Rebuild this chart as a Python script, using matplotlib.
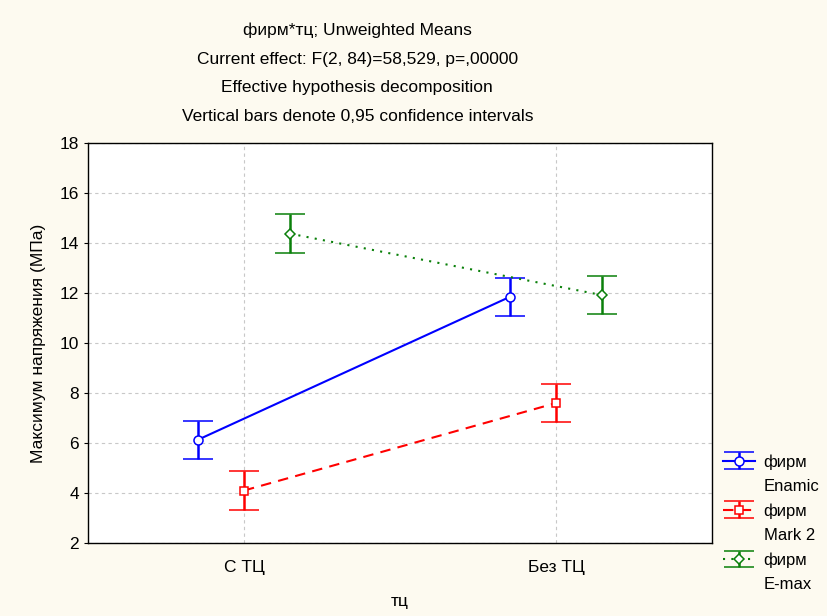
import matplotlib
matplotlib.use("Agg")
import matplotlib.pyplot as plt
from matplotlib.lines import Line2D
import numpy as np

plt.rcParams["font.family"] = ["Liberation Sans", "DejaVu Sans"]

categories = ["С ТЦ", "Без ТЦ"]
series_names = ["фирм", "фирм", "фирм"]
series_sub = ["Enamic", "Mark 2", "E-max"]
means_enamic = [6.13, 11.85]
means_mark2 = [4.10, 7.60]
means_emax = [14.38, 11.92]
ci_enamic = [0.77, 0.77]
ci_mark2 = [0.77, 0.77]
ci_emax = [0.77, 0.77]

bg = "#FDFAF0"
fs = 12.5
fig = plt.figure(figsize=(8.27, 6.16), dpi=100, facecolor=bg)
ax = fig.add_axes([0.1064, 0.1185, 0.7545, 0.649])
ax.set_facecolor("white")

x = np.arange(len(categories))
offsets = [-0.148, 0.0, 0.148]
styles = [
    dict(color="#0000FF", marker="o", ls="-", ms=6.5),
    dict(color="#FF0000", marker="s", ls=(0, (5, 3.5)), ms=6),
    dict(color="#0A800A", marker="D", ls=(0, (1, 3)), ms=5.5),
]
handles = []
labels = []
blank = Line2D([], [], color="none")
for means, ci, off, st, name, sub in zip(
    [means_enamic, means_mark2, means_emax],
    [ci_enamic, ci_mark2, ci_emax],
    offsets, styles, series_names, series_sub,
):
    h = ax.errorbar(x + off, means, yerr=ci, color=st["color"], ls=st["ls"],
                    lw=1.5, marker=st["marker"], ms=st["ms"], mfc="white",
                    mec=st["color"], mew=1.1, capsize=11, capthick=2,
                    elinewidth=1.8)
    handles += [h, blank]
    labels += [name, sub]

ax.set_xlim(-0.5, 1.5)
ax.set_ylim(2, 18)
ax.set_yticks(np.arange(2, 19, 2))
ax.set_xticks(x)
ax.set_xticklabels(categories)
ax.tick_params(axis="both", labelsize=fs, length=3)
ax.tick_params(axis="x", length=0, pad=12)
ax.grid(True, color="#C8C8C8", ls=(0, (3, 3)), lw=0.8)
ax.set_axisbelow(True)
for s in ax.spines.values():
    s.set_linewidth(1.0)

ax.set_xlabel("тц", fontsize=fs, labelpad=14)
ax.set_ylabel("Максимум напряжения (МПа)", fontsize=fs, labelpad=10)

title_lines = [
    "фирм*тц; Unweighted Means",
    "Current effect: F(2, 84)=58,529, p=,00000",
    "Effective hypothesis decomposition",
    "Vertical bars denote 0,95 confidence intervals",
]
for i, t in enumerate(title_lines):
    fig.text(0.432, 1 - (30.5 + 28.7 * i) / 616, t, ha="center", va="center",
             fontsize=fs)

fig.legend(handles=handles, labels=labels, loc="upper left",
           bbox_to_anchor=(0.874, 1 - 454 / 616), frameon=False, fontsize=12,
           handlelength=1.95, handletextpad=0.5, labelspacing=0.56,
           borderaxespad=0, borderpad=0)

fig.savefig("out.png", dpi=100, facecolor=bg)
